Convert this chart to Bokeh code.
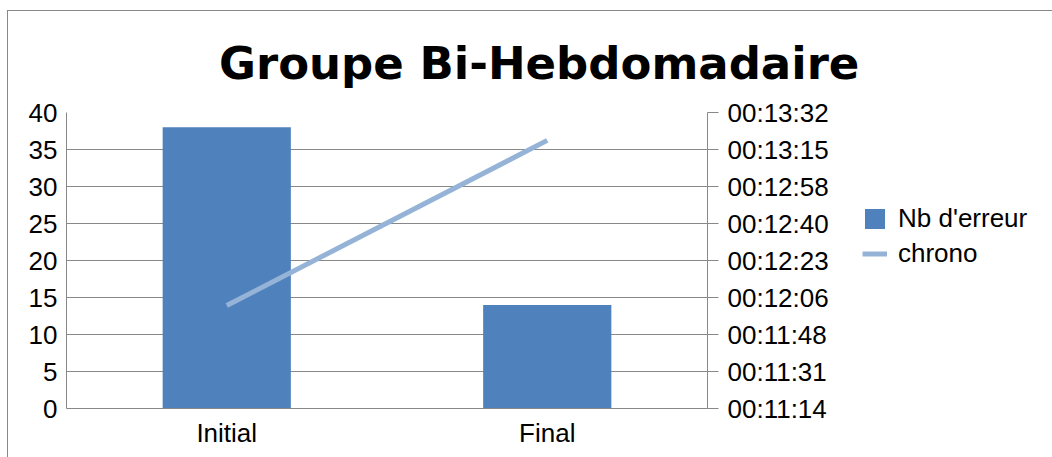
from bokeh.plotting import figure
from bokeh.layouts import row
from bokeh.models import (Range1d, LinearAxis, FixedTicker, Legend, LegendItem,
                          Title, FactorRange, CustomJSTickFormatter)
from bokeh.embed import file_html
from bokeh.resources import INLINE

# ---- data ----
categories = ["Initial", "Final"]
nb_erreur = [38, 14]
chrono = ["00:12:02", "00:13:19"]
left_ticks = [0, 5, 10, 15, 20, 25, 30, 35, 40]
time_tick_labels = ["00:11:14", "00:11:31", "00:11:48", "00:12:06", "00:12:23",
                    "00:12:40", "00:12:58", "00:13:15", "00:13:32"]
title_text = "Groupe Bi-Hebdomadaire"
series_names = ["Nb d'erreur", "chrono"]


def to_sec(s):
    h, m, sec = map(int, s.split(":"))
    return h * 3600 + m * 60 + sec


chrono_sec = [to_sec(s) for s in chrono]
t_min = to_sec(time_tick_labels[0])
t_max = to_sec(time_tick_labels[-1])
n_t = len(time_tick_labels)
time_ticks = [t_min + i * (t_max - t_min) / (n_t - 1) for i in range(n_t)]

FONT = "Liberation Sans"
GRAY = "#888888"
BAR_COLOR = "#4f81bd"
LINE_COLOR = "#95b3d7"

p = figure(x_range=FactorRange(*categories, range_padding=0),
           y_range=Range1d(left_ticks[0], left_ticks[-1]),
           width=854, height=446, output_backend="svg", toolbar_location=None,
           min_border_left=58, min_border_right=155, min_border_top=101,
           min_border_bottom=49)
p.extra_y_ranges = {"time": Range1d(t_min, t_max)}
p.outline_line_color = None
p.background_fill_color = "white"

p.title = Title(text=title_text, align="left", offset=152.5,
                text_font="DejaVu Sans", text_font_style="bold",
                text_font_size="45px", text_color="black", standoff=45)

bars = p.vbar(x=categories, top=nb_erreur, width=0.4, fill_color=BAR_COLOR,
              line_color=None)
line = p.line(x=categories, y=chrono_sec, y_range_name="time",
              line_color=LINE_COLOR, line_width=5)

# left axis
ya = p.yaxis[0]
ya.ticker = FixedTicker(ticks=left_ticks)
ya.major_tick_out = 0
ya.major_tick_in = 0
ya.minor_tick_out = 0
ya.minor_tick_in = 0
ya.axis_line_color = GRAY
ya.major_label_text_font = FONT
ya.major_label_text_font_size = "26px"
ya.major_label_text_color = "black"
ya.major_label_standoff = 9

# right axis
ra = LinearAxis(y_range_name="time", ticker=FixedTicker(ticks=time_ticks),
                formatter=CustomJSTickFormatter(
                    args=dict(tvals=time_ticks, tlabels=time_tick_labels),
                    code="""
let best = 0;
for (let i = 0; i < tvals.length; i++) {
  if (Math.abs(tvals[i] - tick) < Math.abs(tvals[best] - tick)) best = i;
}
return tlabels[best];
"""))
ra.major_tick_out = 11
ra.major_tick_in = 0
ra.minor_tick_out = 0
ra.minor_tick_in = 0
ra.axis_line_color = GRAY
ra.major_tick_line_color = GRAY
ra.major_label_text_font = FONT
ra.major_label_text_font_size = "26px"
ra.major_label_text_color = "black"
ra.major_label_standoff = 9
p.add_layout(ra, "right")

# bottom axis
xa = p.xaxis[0]
xa.major_tick_out = 0
xa.major_tick_in = 0
xa.axis_line_color = GRAY
xa.major_label_text_font = FONT
xa.major_label_text_font_size = "26px"
xa.major_label_text_color = "black"
xa.major_label_standoff = 9

p.xgrid.grid_line_color = None
p.ygrid.grid_line_color = GRAY
p.ygrid.grid_line_width = 1

# legend panel (separate figure to the right, same series styles,
# the series are drawn outside its visible range so only the legend shows)
lf = figure(width=190, height=446, output_backend="svg", toolbar_location=None,
            x_range=Range1d(0, 1), y_range=Range1d(0, 1),
            x_axis_type=None, y_axis_type=None,
            min_border_left=0, min_border_right=0, min_border_top=101,
            min_border_bottom=49)
lf.outline_line_color = None
lf.xgrid.grid_line_color = None
lf.ygrid.grid_line_color = None
lbar = lf.vbar(x=[-10], top=[-10], width=0.4, fill_color=BAR_COLOR,
               line_color=None)
lline = lf.line(x=[-10, -9], y=[-10, -9], line_color=LINE_COLOR, line_width=5)

legend = Legend(items=[LegendItem(label=series_names[0], renderers=[lbar]),
                       LegendItem(label=series_names[1], renderers=[lline])],
                location=(0, 139), padding=0, margin=0,
                border_line_color=None, background_fill_alpha=0,
                glyph_width=25, glyph_height=25, label_height=25, spacing=4,
                label_standoff=11, label_text_font=FONT,
                label_text_font_size="26px", label_text_color="black")
lf.add_layout(legend, "center")

layout = row(p, lf)
layout.styles = {"border-left": "1px solid #888888",
                 "border-top": "1px solid #888888",
                 "margin-top": "10px", "margin-left": "7px"}

open("out.html", "w").write(file_html(layout, INLINE))
